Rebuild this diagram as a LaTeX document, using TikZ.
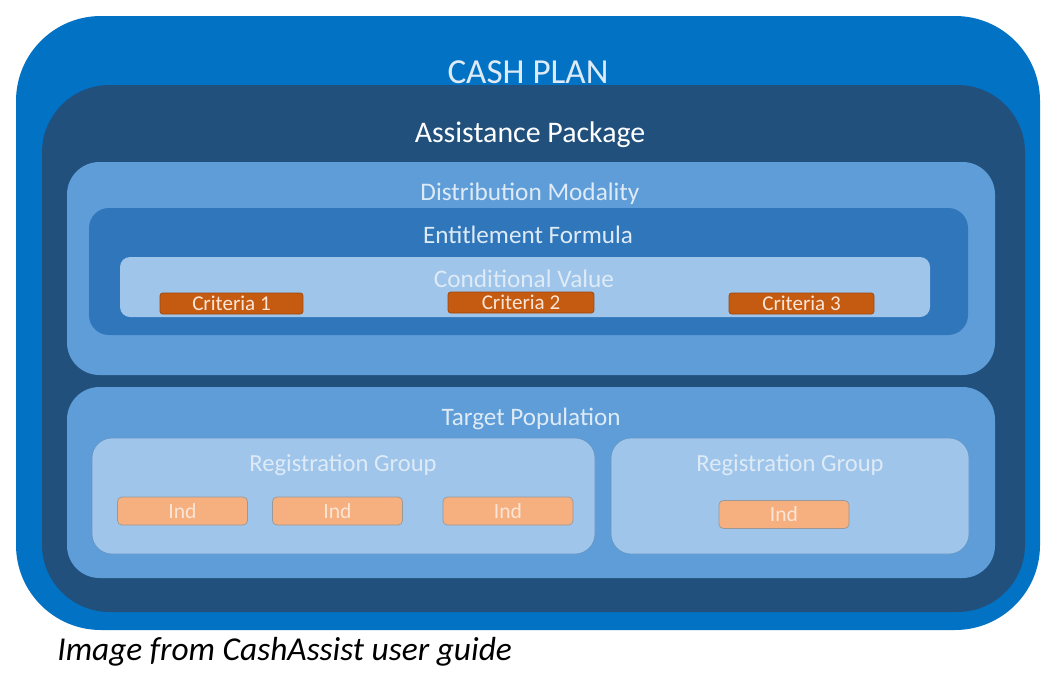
\documentclass[tikz,border=0pt]{standalone}
\usepackage{fontspec}
\setmainfont{Carlito}
\usepackage{tikz}

\definecolor{planblue}{RGB}{2,114,196}
\definecolor{packnavy}{RGB}{33,80,124}
\definecolor{modblue}{RGB}{94,157,216}
\definecolor{formblue}{RGB}{48,118,186}
\definecolor{condlight}{RGB}{159,197,234}
\definecolor{critorange}{RGB}{197,90,17}
\definecolor{indorange}{RGB}{246,176,127}
\definecolor{paletext}{RGB}{222,235,247}
\definecolor{peachtext}{RGB}{251,229,214}

\tikzset{
  crit/.style={fill=critorange, draw=critorange!80!black, rounded corners=1.5pt,
    text=peachtext, font=\fontsize{12}{14}\selectfont, inner sep=0pt,
    minimum height=0.42cm},
  ind/.style={fill=indorange, draw=gray!80, rounded corners=2.5pt,
    text=peachtext, font=\fontsize{12.3}{14}\selectfont, inner sep=0pt,
    minimum width=2.6cm, minimum height=0.56cm},
  group/.style={fill=condlight, draw=modblue!80!gray, rounded corners=0.4cm}
}

\begin{document}
\begin{tikzpicture}[x=0.02cm, y=-0.02cm]
    \useasboundingbox[fill=white] (0,0) rectangle (1064,676);

    % Draw the nested boxes
    \fill[planblue, rounded corners=1.7cm] (16,16) rectangle (1040,630);
    \fill[packnavy, rounded corners=1.35cm] (42,85) rectangle (1025,612);
    \fill[modblue, rounded corners=0.65cm] (67,162) rectangle (995,375);
    \fill[formblue, rounded corners=0.4cm] (89,208) rectangle (968,335);
    \fill[condlight, rounded corners=0.2cm] (120,257) rectangle (930,317);
    \fill[modblue, rounded corners=0.65cm] (67,387) rectangle (995,578);
    \draw[group] (92,438) rectangle (595,554);
    \draw[group] (611,438) rectangle (969,554);

    % Labels of the boxes
    \node[anchor=base, text=paletext, font=\fontsize{20}{24}\selectfont] (plan) at (528,83) {CASH PLAN};
    \node[anchor=base, text=white, font=\fontsize{17}{20}\selectfont] (pack) at (530,142) {Assistance Package};
    \node[anchor=base, text=paletext, font=\fontsize{14.4}{17}\selectfont] (mod) at (530,200) {Distribution Modality};
    \node[anchor=base, text=paletext, font=\fontsize{14.3}{17}\selectfont] (form) at (528,243) {Entitlement Formula};
    \node[anchor=base, text=paletext, font=\fontsize{14.4}{17}\selectfont] (cond) at (524,287) {Conditional Value};
    \node[anchor=base, text=paletext, font=\fontsize{14.3}{17}\selectfont] (target) at (531,425) {Target Population};
    \node[anchor=base, text=paletext, font=\fontsize{14}{17}\selectfont] (grpa) at (343,471) {Registration Group};
    \node[anchor=base, text=paletext, font=\fontsize{14}{17}\selectfont] (grpb) at (790,471) {Registration Group};

    % Criteria
    \node[crit, minimum width=2.86cm] (crita) at (231.5,303.5) {Criteria 1};
    \node[crit, minimum width=2.92cm] (critb) at (521,302.5) {Criteria 2};
    \node[crit, minimum width=2.9cm] (critc) at (801.5,303.5) {Criteria 3};

    % Individuals
    \node[ind] (inda) at (182.5,511) {Ind};
    \node[ind] (indb) at (337.5,511) {Ind};
    \node[ind] (indc) at (508,511) {Ind};
    \node[ind] (indd) at (784,514.5) {Ind};

    % Caption
    \node[anchor=base west, inner sep=0pt, font=\fontsize{19}{22}\selectfont\itshape] (caption) at (57,660) {Image from CashAssist user guide};
\end{tikzpicture}
\end{document}
